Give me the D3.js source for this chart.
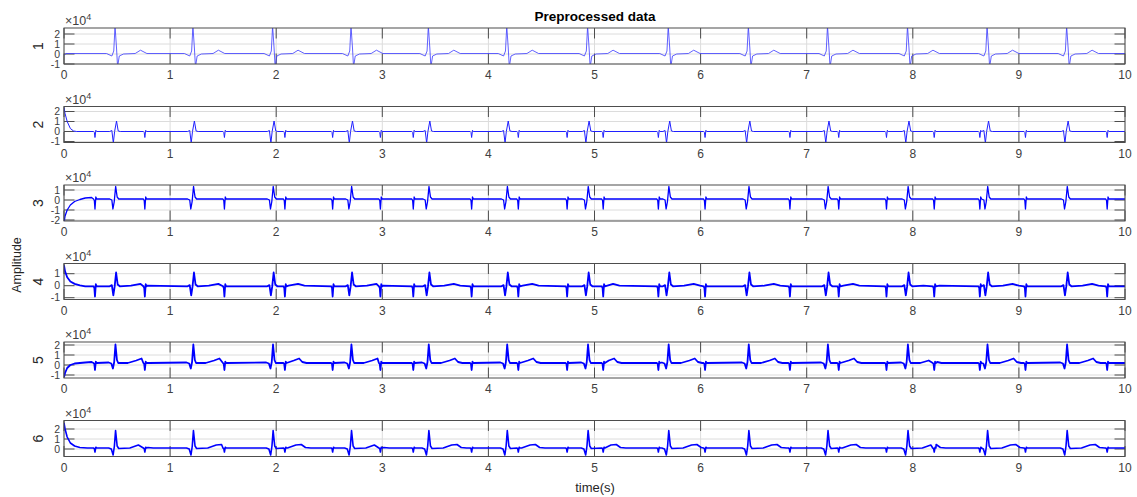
<!DOCTYPE html>
<html>
<head>
<meta charset="utf-8">
<script src="https://cdn.jsdelivr.net/npm/d3@7"></script>
<style>
body{margin:0;background:#fff;}
svg{font-family:"Liberation Sans",Arial,Helvetica,sans-serif;}
</style>
</head>
<body>
<svg id="chart" width="1137" height="497"></svg>
<script>
var beatTimes=[0.481,1.215,1.966,2.705,3.434,4.173,4.935,5.695,6.45,7.196,7.95,8.70,9.45];
// small spikes between the big beats (s)
var fetalTimes=[0.29,0.76,1.51,2.08,2.53,2.98,3.29,3.84,4.28,4.74,5.08,5.6,6.04,6.84,7.3,7.75,8.2,8.63,9.06,9.83];

var xTicks=[0,1,2,3,4,5,6,7,8,9,10];
var channelNames=["1","2","3","4","5","6"];
var yDomains=[[-1,2.6],[-1.1,2.5],[-2.1,1.5],[-1.15,1.85],[-1.3,2.3],[-0.75,2.85]];
var yTicks=[[-1,0,1,2],[-1,0,1,2],[-2,-1,0,1],[-1,0,1],[-1,0,1,2],[0,1,2]];
var baselines=[0.05,0,0.1,-0.05,0.2,0.1];
var fetalAmps=[0,-0.6,-1.0,-0.85,-0.7,-0.4];

// start of each record: [t, value x1e4]
var ch1Start=[[0,-0.1],[0.02,0.05]];
var ch2Start=[[0,2.4],[0.01,1.8],[0.03,1.0],[0.06,0.3],[0.09,0.05],[0.12,0]];
var ch3Start=[[0,-2.3],[0.01,-1.6],[0.03,-1.0],[0.06,-0.5],[0.1,-0.15],[0.15,0.05],[0.2,0.2],[0.26,0.25]];
var ch4Start=[[0,1.7],[0.01,1.2],[0.03,0.7],[0.06,0.35],[0.1,0.15],[0.15,0.02],[0.2,-0.05]];
var ch5Start=[[0,-1.2],[0.01,-0.8],[0.03,-0.3],[0.06,0.0],[0.1,0.15],[0.2,0.25],[0.26,0.3]];
var ch6Start=[[0,2.6],[0.01,2.0],[0.03,1.2],[0.06,0.6],[0.1,0.3],[0.15,0.15],[0.22,0.1]];

// one beat of each channel: [time from R peak, value x1e4]
var ch1Beat=[[-0.08,0.05],[-0.03,-0.2],[-0.012,0.3],[0,2.8],[0.014,0.6],[0.024,-1.3],[0.04,-0.2],[0.08,0.0],[0.19,0.05],[0.24,0.38],[0.3,0.05]];
var ch2Beat=[[-0.05,0],[-0.03,0.1],[-0.016,-1.15],[-0.004,0.0],[0.014,1.05],[0.03,0.05],[0.05,0]];
var ch3Beat=[[-0.05,0.1],[-0.03,0.0],[-0.02,-0.9],[-0.008,-0.2],[0.006,1.35],[0.02,0.3],[0.035,0.1]];
var ch4Beat=[[-0.05,-0.05],[-0.03,0.05],[-0.016,-0.8],[-0.004,-0.1],[0.01,1.1],[0.025,0.1],[0.045,-0.05],[0.15,0.0],[0.24,0.15],[0.3,0.0]];
var ch5Beat=[[-0.06,0.25],[-0.035,0.15],[-0.02,-0.35],[-0.008,0.3],[0.004,2.05],[0.018,0.5],[0.03,0.2],[0.12,0.2],[0.2,0.45],[0.25,0.65],[0.28,0.3],[0.32,0.2]];
var ch6Beat=[[-0.06,0.1],[-0.035,0.0],[-0.018,-0.6],[-0.006,0.3],[0.005,1.85],[0.02,0.3],[0.035,0.05],[0.14,0.1],[0.22,0.4],[0.27,0.45],[0.31,0.15],[0.36,0.1]];
// small spike shape, scaled by fetalAmps
var fetalShape=[[-0.012,0],[-0.004,0.15],[0.002,1],[0.01,-0.2],[0.018,0]];

var starts=[ch1Start,ch2Start,ch3Start,ch4Start,ch5Start,ch6Start];
var beats=[ch1Beat,ch2Beat,ch3Beat,ch4Beat,ch5Beat,ch6Beat];
var strokeW=[0.8,1.0,1.3,1.8,1.8,1.6];
var strokeCol=['#3a3aff','#2020ff','#0000ff','#0000ff','#0000ff','#0000ff'];

function buildPoints(k){
    var pts=[];
    starts[k].forEach(function(p){pts.push({t:p[0],v:p[1]});});
    var startEnd=starts[k][starts[k].length-1][0];
    beatTimes.forEach(function(r){
        beats[k].forEach(function(p){pts.push({t:r+p[0],v:p[1],beat:true});});
    });
    if(fetalAmps[k]!=0){
        fetalTimes.forEach(function(f){
            if(f<startEnd) return;
            for(var i=0;i<beatTimes.length;i+=1){
                if(Math.abs(f-beatTimes[i])<0.05) return;
            }
            pts=pts.filter(function(p){return !(p.beat && Math.abs(p.t-f)<0.02);});
            fetalShape.forEach(function(s){
                pts.push({t:f+s[0],v:baselines[k]+s[1]*fetalAmps[k]});
            });
        });
    }
    pts.push({t:10,v:baselines[k]});
    pts=pts.filter(function(p){return p.t>=0 && p.t<=10;});
    pts.sort(function(a,b){return a.t-b.t;});
    return pts;
}

function draw(){
    var svg=d3.select('#chart');
    var x0=64,x1=1125,panelH=36;
    var panelTop=[28,106.5,185,263.5,342,420.5];
    var axisCol='#4d4d4d',textCol='#404040';
    var x=d3.scaleLinear().domain([0,10]).range([x0,x1]);
    var defs=svg.append('defs');

    for(var k=0;k<6;k+=1){
        var pTop=panelTop[k],pBot=pTop+panelH;
        var y=d3.scaleLinear().domain(yDomains[k]).range([pBot,pTop]);
        var g=svg.append('g');

        // grid
        g.selectAll('line.gy').data(yTicks[k]).enter().append('line')
            .attr('x1',x0).attr('x2',x1)
            .attr('y1',function(d){return y(d);}).attr('y2',function(d){return y(d);})
            .attr('stroke','#dcdcdc').attr('stroke-width',1);
        g.selectAll('line.gx').data(xTicks).enter().append('line')
            .attr('x1',function(d){return x(d);}).attr('x2',function(d){return x(d);})
            .attr('y1',pTop).attr('y2',pBot)
            .attr('stroke','#dcdcdc').attr('stroke-width',1);

        // ticks inside, all four sides
        var tl=10.5;
        g.selectAll('line.tx').data(xTicks).enter().append('line')
            .attr('x1',function(d){return x(d);}).attr('x2',function(d){return x(d);})
            .attr('y1',pBot).attr('y2',pBot-tl).attr('stroke',axisCol);
        g.selectAll('line.tx2').data(xTicks).enter().append('line')
            .attr('x1',function(d){return x(d);}).attr('x2',function(d){return x(d);})
            .attr('y1',pTop).attr('y2',pTop+tl).attr('stroke',axisCol);
        g.selectAll('line.ty').data(yTicks[k]).enter().append('line')
            .attr('x1',x0).attr('x2',x0+tl)
            .attr('y1',function(d){return y(d);}).attr('y2',function(d){return y(d);}).attr('stroke',axisCol);
        g.selectAll('line.ty2').data(yTicks[k]).enter().append('line')
            .attr('x1',x1).attr('x2',x1-tl)
            .attr('y1',function(d){return y(d);}).attr('y2',function(d){return y(d);}).attr('stroke',axisCol);

        // tick labels
        g.selectAll('text.xl').data(xTicks).enter().append('text')
            .attr('x',function(d){return x(d);}).attr('y',pBot+15)
            .attr('text-anchor','middle').attr('font-size',12).attr('fill',textCol)
            .text(function(d){return d;});
        g.selectAll('text.yl').data(yTicks[k]).enter().append('text')
            .attr('x',x0-4).attr('y',function(d){return y(d)+3.5;})
            .attr('text-anchor','end').attr('font-size',10.5).attr('fill',textCol)
            .text(function(d){return d;});

        // exponent label
        var ex=g.append('text').attr('x',x0+1).attr('y',pTop-3)
            .attr('font-size',12.5).attr('fill',textCol);
        ex.append('tspan').text('\u00d710');
        ex.append('tspan').attr('dy',-5).attr('font-size',9).text('4');

        // channel label
        g.append('text')
            .attr('transform','translate(43,'+(pTop+panelH/2)+') rotate(-90)')
            .attr('text-anchor','middle').attr('font-size',14).attr('fill','#262626')
            .text(channelNames[k]);

        // signal
        defs.append('clipPath').attr('id','clip'+k)
            .append('rect').attr('x',x0).attr('y',pTop).attr('width',x1-x0).attr('height',panelH);
        var line=d3.line().x(function(d){return x(d.t);}).y(function(d){return y(d.v);});
        g.append('path').datum(buildPoints(k))
            .attr('clip-path','url(#clip'+k+')')
            .attr('d',line).attr('fill','none')
            .attr('stroke',strokeCol[k]).attr('stroke-width',strokeW[k])
            .attr('stroke-linejoin','round');

        // box
        g.append('rect').attr('x',x0).attr('y',pTop).attr('width',x1-x0).attr('height',panelH)
            .attr('fill','none').attr('stroke',axisCol).attr('stroke-width',1);
    }

    svg.append('text').attr('x',595).attr('y',21).attr('text-anchor','middle')
        .attr('font-size',13.5).attr('font-weight','bold').attr('fill','#000')
        .text('Preprocessed data');
    svg.append('text').attr('transform','translate(21,265) rotate(-90)')
        .attr('text-anchor','middle').attr('font-size',12.5).attr('fill','#262626')
        .text('Amplitude');
    svg.append('text').attr('x',595).attr('y',492).attr('text-anchor','middle')
        .attr('font-size',13).attr('fill','#262626')
        .text('time(s)');
}
draw();
</script>
</body>
</html>
